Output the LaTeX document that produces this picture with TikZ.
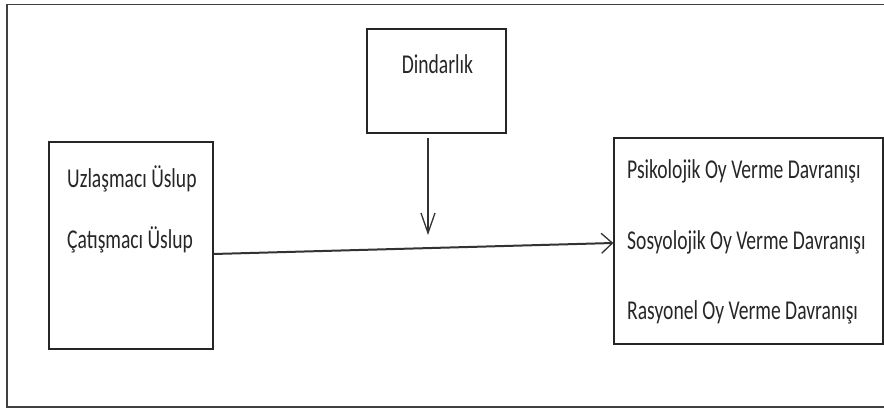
\documentclass[tikz,border=0pt]{standalone}
\usepackage{fontspec}
\setmainfont{Carlito}
\usetikzlibrary{arrows.meta}
\newcommand{\narrow}[1]{\scalebox{0.72}[1]{#1}}
\begin{document}
\begin{tikzpicture}[x=1pt,y=1pt,
  box/.style={draw=black!85,line width=1.3pt,inner sep=0pt,minimum width=#1},
  label/.style={inner sep=0pt,font=\fontsize{27.2}{30}\selectfont,text=black!85},
  link/.style={draw=black!80,line width=1.3pt}]
  \useasboundingbox (0,0) rectangle (884,410);
  % outer frame (open on the right)
  \draw[black!75,line width=1.6pt] (890,405.5) -- (7,405.5) -- (7,3) -- (890,3);
  % boxes
  \node[box=164pt,minimum height=207pt] (lb) at (131,164.5) {};
  \node[box=269pt,minimum height=206pt] (rb) at (748.5,169) {};
  \node[box=139pt,minimum height=104pt] (db) at (436.5,329) {};
  % texts
  \node[label,anchor=base] (t0) at (437.5,336) {\narrow{Dindarlık}};
  \node[label,anchor=base west] (t1) at (67,222) {\narrow{Uzlaşmacı Üslup}};
  \node[label,anchor=base west] (t2) at (67,161) {\narrow{Çatışmacı Üslup}};
  \node[label,anchor=base west] (t3) at (627,231) {\narrow{Psikolojik Oy Verme Davranışı}};
  \node[label,anchor=base west] (t4) at (627,160) {\narrow{Sosyolojik Oy Verme Davranışı}};
  \node[label,anchor=base west] (t5) at (627,90) {\narrow{Rasyonel Oy Verme Davranışı}};
  % connectors
  \coordinate (mid) at (428,175);
  \draw[link,-{Straight Barb[length=20pt,width=14pt,line width=1.3pt]}] ([yshift=-4pt]db.south -| mid) -- (mid);
  \draw[link,line width=2pt,-{Straight Barb[length=11pt,width=20pt,line width=1.3pt]}] ([yshift=-8.5pt]lb.east) -- ([yshift=-2pt]rb.west);
\end{tikzpicture}
\end{document}
